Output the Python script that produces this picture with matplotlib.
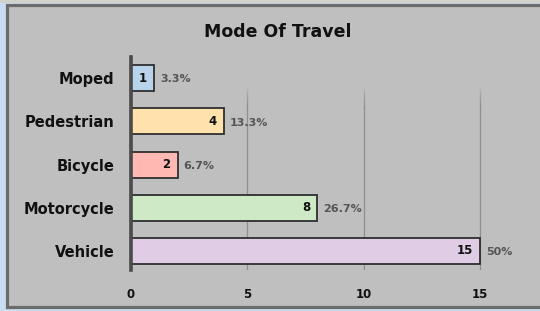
import numpy as np
import matplotlib.pyplot as plt
from matplotlib.patches import Rectangle

# data
modes = ['Vehicle', 'Motorcycle', 'Bicycle', 'Pedestrian', 'Moped']
counts = [15, 8, 2, 4, 1]
percents = ['50%', '26.7%', '6.7%', '13.3%', '3.3%']
colours = ['#e0cde5', '#cde9c6', '#ffb9b2', '#ffe2ab', '#b9d4ea']

W, H = 540, 311
fig = plt.figure(figsize=(W / 100, H / 100), dpi=100)
fig.patch.set_facecolor('#c8ddf1')

# chart panel + frame
fig.patches.append(Rectangle((0, (H - 3) / H), 1, 3 / H, transform=fig.transFigure,
                             facecolor='#d2d2cc', edgecolor='none', zorder=-10))
fig.patches.append(Rectangle((6.5 / W, 4.5 / H), 1, (H - 9) / H, transform=fig.transFigure,
                             facecolor='#bfbfbf', edgecolor='#6c6c6c', linewidth=2.3, zorder=-10))

x0 = 131
scale = 23.27
xmax = 17
ax = fig.add_axes([x0 / W, (H - 270) / H, xmax * scale / W, (270 - 57) / H])
ax.set_facecolor('none')

y = np.arange(len(modes))
ax.barh(y, counts, height=0.6, color=colours, edgecolor='#2e2e2e', linewidth=1.3, zorder=3)

ax.set_xlim(0, xmax)
ax.set_ylim(-0.44, len(modes) - 1 + 0.49)

# gridlines fading towards the top
for gx in [5, 10, 15]:
    ax.axvline(gx, ymin=0, ymax=0.76, color='#8f8f8f', linewidth=0.9, zorder=1)
    for k in range(8):
        a = 0.76 + k * 0.012
        ax.axvline(gx, ymin=a, ymax=a + 0.012, color='#8f8f8f', linewidth=0.9,
                   alpha=1 - k / 8, zorder=1)

for i in range(len(modes)):
    ax.text(counts[i] - 0.3, y[i], str(counts[i]), ha='right', va='center',
            fontsize=8.5, fontweight='bold', color='#111111', zorder=4)
    ax.text(counts[i] + 0.25, y[i] - 0.03, percents[i], ha='left', va='center',
            fontsize=8, fontweight='bold', color='#555555', zorder=4)

ax.set_yticks(y)
ax.set_yticklabels(modes, fontsize=10.5, fontweight='bold', color='#111111')
ax.set_xticks([0, 5, 10, 15])
ax.set_xticklabels(['0', '5', '10', '15'], fontsize=8.5, fontweight='bold', color='#111111')
ax.tick_params(length=0, axis='y', pad=12)
ax.tick_params(length=0, axis='x', pad=13)

for s in ['top', 'right', 'bottom']:
    ax.spines[s].set_visible(False)
ax.spines['left'].set_color('#4a4a4a')
ax.spines['left'].set_linewidth(2.6)
ax.spines['left'].set_zorder(5)

fig.text(278 / W, (H - 32) / H, 'Mode Of Travel', ha='center', va='center',
         fontsize=12.5, fontweight='bold', color='#111111')

fig.savefig('out.png', dpi=100)
